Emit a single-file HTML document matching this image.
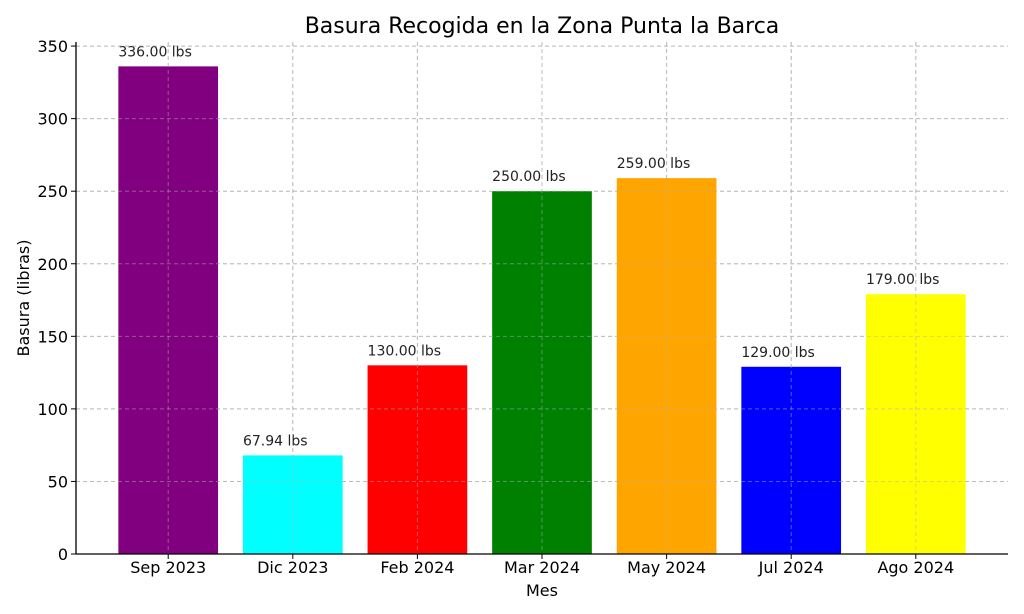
<!DOCTYPE html>
<html><head><meta charset="utf-8"><style>
html,body{margin:0;padding:0;background:#fff;}
svg{display:block;font-family:"DejaVu Sans","Liberation Sans",sans-serif;}
</style></head><body>
<svg id="chart" width="1024" height="614"></svg>
<script>
const categories = ["Sep 2023","Dic 2023","Feb 2024","Mar 2024","May 2024","Jul 2024","Ago 2024"];
const values = [336, 67.94, 130, 250, 259, 129, 179];
const colors = ["#800080","#00ffff","#ff0000","#008000","#ffa500","#0000ff","#ffff00"];
const yTicks = [0,50,100,150,200,250,300,350];

const svg = document.getElementById('chart');
const NS = 'http://www.w3.org/2000/svg';
const plotLeft = 76, plotRight = 1008, plotBottom = 554;
const yMax = Math.max(...values) * 1.05;
const plotTop = 42;
const y = v => plotBottom - v / yMax * (plotBottom - plotTop);
const unit = (plotRight - plotLeft) / (categories.length - 1 + 0.8 + 0.68);
const x = i => plotLeft + (i + 0.74) * unit;
const bw = 0.8 * unit;

function mk(tag, attrs, text) {
  const e = document.createElementNS(NS, tag);
  for (const k in attrs) e.setAttribute(k, attrs[k]);
  if (text !== undefined) e.textContent = text;
  svg.appendChild(e);
  return e;
}

yTicks.forEach(t => {
  const g = mk('line', {x1: plotLeft, x2: plotRight, y1: y(t), y2: y(t), stroke: '#c8c8c8', 'stroke-dasharray': '4,3', 'stroke-width': 1});
  
  
});
categories.forEach((c, i) => {
  const g = mk('line', {x1: x(i), x2: x(i), y1: plotTop, y2: plotBottom, stroke: '#c8c8c8', 'stroke-dasharray': '4,3', 'stroke-width': 1});
  
  
});

values.forEach((v, i) => {
  const r = mk('rect', {x: x(i) - bw / 2, y: y(v), width: bw, height: plotBottom - y(v), fill: colors[i]});
  
  
  const t = mk('text', {x: x(i) - bw / 2, y: y(v) - 10, 'font-size': 14, fill: '#222'}, v.toFixed(2) + ' lbs');
  
  
});

yTicks.forEach(t => {
  const g = mk('line', {x1: plotLeft, x2: plotRight, y1: y(t), y2: y(t), stroke: '#b0b0b0', 'stroke-opacity': 0.5, 'stroke-dasharray': '4,3', 'stroke-width': 1});
  
  
});
categories.forEach((c, i) => {
  const g = mk('line', {x1: x(i), x2: x(i), y1: plotTop, y2: plotBottom, stroke: '#b0b0b0', 'stroke-opacity': 0.5, 'stroke-dasharray': '4,3', 'stroke-width': 1});
  
  
});

let a = mk('line', {x1: plotLeft, x2: plotLeft, y1: plotTop, y2: plotBottom, stroke: '#000', 'stroke-width': 1.3});


a = mk('line', {x1: plotLeft, x2: plotRight, y1: plotBottom, y2: plotBottom, stroke: '#000', 'stroke-width': 1.3});



yTicks.forEach(t => {
  const l = mk('line', {x1: plotLeft - 5, x2: plotLeft, y1: y(t), y2: y(t), stroke: '#000'});
  
  
  const tx = mk('text', {x: plotLeft - 8, y: y(t) + 6, 'font-size': 16, 'text-anchor': 'end', fill: '#000'}, t);
  
  
});
categories.forEach((c, i) => {
  const l = mk('line', {x1: x(i), x2: x(i), y1: plotBottom, y2: plotBottom + 5, stroke: '#000'});
  
  
  const tx = mk('text', {x: x(i), y: plotBottom + 19, 'font-size': 16, 'text-anchor': 'middle', fill: '#000'}, c);
  
  
});

let tt = mk('text', {x: 542, y: 33, 'font-size': 22, 'text-anchor': 'middle', fill: '#000'}, 'Basura Recogida en la Zona Punta la Barca');


tt = mk('text', {x: 542, y: 596, 'font-size': 16, 'text-anchor': 'middle', fill: '#000'}, 'Mes');


tt = mk('text', {x: 0, y: 0, 'font-size': 16, 'text-anchor': 'middle', fill: '#000', transform: 'translate(29,298) rotate(-90)'}, 'Basura (libras)');


</script>
</body></html>
